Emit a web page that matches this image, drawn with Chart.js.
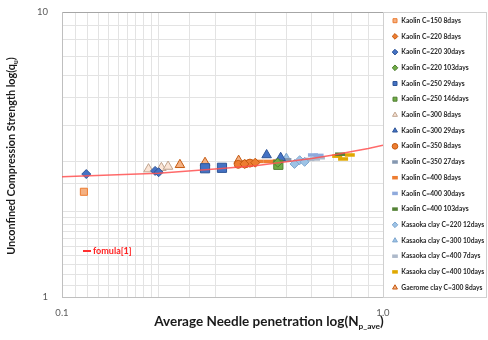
<!DOCTYPE html>
<html>
<head>
<meta charset="utf-8">
<script src="https://cdn.jsdelivr.net/npm/chart.js@4.4.1/dist/chart.umd.min.js"></script>
<style>
  html, body { margin: 0; padding: 0; background: #fff; }
  #wrap { width: 488px; height: 340px; }
</style>
</head>
<body>
<div id="wrap"><canvas id="qChart" width="488" height="340"></canvas></div>
<script>
// series: needle penetration (x) and q_u (y)
const seriesNames = [
  'Kaolin C=150 8days', 'Kaolin C=220 8days', 'Kaolin C=220 30days', 'Kaolin C=220 103days',
  'Kaolin C=250 29days', 'Kaolin C=250 146days', 'Kaolin C=300 8days', 'Kaolin C=300 29days',
  'Kaolin C=350 8days', 'Kaolin C=350 27days', 'Kaolin C=400 8days', 'Kaolin C=400 30days',
  'Kaolin C=400 103days', 'Kasaoka clay C=220 12days', 'Kasaoka clay C=300 10days',
  'Kasaoka clay C=400 7days', 'Kasaoka clay C=400 10days', 'Gaerome clay C=300 8days'
];
const needleX = [
  [0.117], [0.37, 0.40], [0.119, 0.195, 0.200], [0.47],
  [0.279, 0.315], [0.472], [0.186, 0.204, 0.214], [0.434, 0.48],
  [0.354, 0.372, 0.385], [0.48, 0.50], [0.41, 0.44, 0.47], [0.605, 0.63],
  [0.735], [0.53, 0.55, 0.57], [0.50],
  [0.59, 0.614, 0.636], [0.72, 0.751, 0.788], [0.233, 0.279, 0.355]
];
const strengthY = [
  [2.34], [2.93, 2.96], [2.70, 2.77, 2.74], [2.96],
  [2.83, 2.84], [2.91], [2.81, 2.84, 2.87], [3.15, 3.08],
  [2.92, 2.93, 2.95], [3.02, 3.03], [2.99, 2.99, 3.00], [3.15, 3.14],
  [3.17], [2.93, 3.02, 2.98], [3.06],
  [3.04, 3.05, 3.08], [3.12, 3.05, 3.15], [2.91, 2.96, 3.01]
];
const formulaLabel = 'fomula[1]';
const formulaX = [0.1, 0.2, 0.3, 0.4, 0.5, 0.6, 0.7, 0.8, 0.9, 1.0];
const formulaY = [2.64, 2.72, 2.81, 2.89, 2.98, 3.06, 3.15, 3.24, 3.32, 3.41];
const yTickLabels = [1, 10];
const xTickLabels = [0.1, 1];

// marker looks
const pointStyles = ['rect', 'rectRot', 'rectRot', 'rectRot', 'rect', 'rect', 'triangle', 'triangle',
  'circle', 'line', 'line', 'line', 'line', 'rectRot', 'triangle', 'line', 'line', 'triangle'];
const fillColors = ['#F4B183', '#ED7D31', '#4472C4', '#70AD47', '#4472C4', '#70AD47', '#FBE5D6', '#4472C4',
  '#ED7D31', '#8497B0', '#ED7D31', '#8FAADC', '#548235', '#9DC3E6', '#9DC3E6', '#ADB9CA', '#FFC000', '#F4B183'];
const edgeColors = ['#ED7D31', '#C55A11', '#2F5597', '#507E32', '#2F5597', '#507E32', '#BFA38E', '#2F5597',
  '#C55A11', '#8497B0', '#ED7D31', '#8FAADC', '#548235', '#7FA7CF', '#7FA7CF', '#ADB9CA', '#E0A800', '#C55A11'];
const markerSizes = [5, 4.5, 4.5, 4.5, 6.5, 6.5, 5.5, 5.5, 4, 5, 5, 5, 5, 4.5, 5.5, 5, 5, 5.5];

const datasets = seriesNames.map((name, i) => ({
  label: name,
  data: needleX[i].map((x, j) => ({ x: x, y: strengthY[i][j] })),
  pointStyle: pointStyles[i],
  backgroundColor: fillColors[i],
  borderColor: edgeColors[i],
  borderWidth: pointStyles[i] === 'line' ? 3.5 : 1,
  pointRadius: markerSizes[i],
  order: 1
}));
datasets.push({
  label: formulaLabel,
  data: formulaX.map((x, j) => ({ x: x, y: formulaY[j] })),
  showLine: true,
  pointRadius: 0,
  borderColor: 'rgba(255, 80, 80, 0.85)',
  borderWidth: 1.5,
  order: 0
});

const sameNum = (a, b) => Math.abs(a - b) < 1e-9;

const extras = {
  id: 'extras',
  afterDraw(chart) {
    const ctx = chart.ctx;
    const area = chart.chartArea;
    ctx.save();
    // box round the legend
    ctx.strokeStyle = '#d0d0d0';
    ctx.lineWidth = 1;
    ctx.strokeRect(Math.round(area.right) + 0.5, Math.round(area.top) + 0.5, 488 - Math.round(area.right) - 2, Math.round(area.bottom - area.top));

    // formula legend inside the plot
    ctx.strokeStyle = '#FF3030';
    ctx.lineWidth = 2;
    ctx.beginPath();
    ctx.moveTo(83, 251);
    ctx.lineTo(91, 251);
    ctx.stroke();
    ctx.fillStyle = '#FF2020';
    ctx.font = 'bold 9px Lato';
    ctx.textBaseline = 'middle';
    ctx.textAlign = 'left';
    ctx.fillText(formulaLabel, 93, 251);

    // axis titles with subscripts
    ctx.fillStyle = '#1a1a1a';
    ctx.textBaseline = 'alphabetic';
    const drawSub = (parts, x, y, size) => {
      let total = 0;
      parts.forEach(p => {
        ctx.font = 'bold ' + (p.sub ? size * 0.62 : size) + 'px Lato';
        total += ctx.measureText(p.t).width;
      });
      let cx = x - total / 2;
      parts.forEach(p => {
        ctx.font = 'bold ' + (p.sub ? size * 0.62 : size) + 'px Lato';
        ctx.fillText(p.t, cx, y + (p.sub ? size * 0.25 : 0));
        cx += ctx.measureText(p.t).width;
      });
    };
    drawSub([{ t: 'Average Needle penetration log(N' }, { t: 'p_ave', sub: true }, { t: ')' }], 269, 326, 13.5);
    ctx.translate(15, 156);
    ctx.rotate(-Math.PI / 2);
    drawSub([{ t: 'Unconfined Compression Strength log(q' }, { t: 'u', sub: true }, { t: ')' }], 0, 0, 10.8);
    ctx.restore();
  }
};

new Chart(document.getElementById('qChart'), {
  type: 'scatter',
  data: { datasets: datasets },
  options: {
    responsive: false,
    animation: false,
    devicePixelRatio: 1,
    layout: { padding: 0 },
    plugins: {
      title: { display: true, text: '', font: { size: 10, lineHeight: 1.2 }, padding: 0 },
      tooltip: { enabled: false },
      legend: {
        position: 'right',
        align: 'start',
        maxWidth: 105,
        title: { display: true, text: ' ', font: { size: 6.96, lineHeight: 1.2 }, padding: 0 },
        labels: {
          usePointStyle: true,
          boxWidth: 6,
          boxHeight: 4,
          padding: 9,
          color: '#262626',
          font: { family: 'Lato', size: 6.7, weight: 'bold' },
          filter: item => item.text !== formulaLabel
        }
      }
    },
    scales: {
      x: {
        type: 'logarithmic',
        min: 0.1,
        max: 1,
        afterFit: s => { s.height = 43; },
        border: { color: '#bfbfbf' },
        grid: { color: '#e3e3e3', drawTicks: false },
        ticks: {
          autoSkip: false,
          maxRotation: 0,
          padding: 10,
          color: '#595959',
          font: { family: 'Lato', size: 9.5 },
          callback: v => xTickLabels.some(t => sameNum(t, v)) ? Number(v).toFixed(1) : ''
        }
      },
      y: {
        type: 'logarithmic',
        min: 1,
        max: 10,
        afterFit: s => { s.width = 62; s.paddingTop = 6; s.paddingBottom = 6; },
        border: { color: '#bfbfbf' },
        grid: {
          drawTicks: false,
          color: c => c.tick && sameNum(c.tick.value, 10) ? '#a6a6a6' : '#e3e3e3'
        },
        ticks: {
          autoSkip: false,
          padding: 14,
          color: '#595959',
          font: { family: 'Lato', size: 9.5 },
          callback: v => yTickLabels.some(t => sameNum(t, v)) ? String(v) : ''
        }
      }
    }
  },
  plugins: [extras]
});
</script>
</body>
</html>
